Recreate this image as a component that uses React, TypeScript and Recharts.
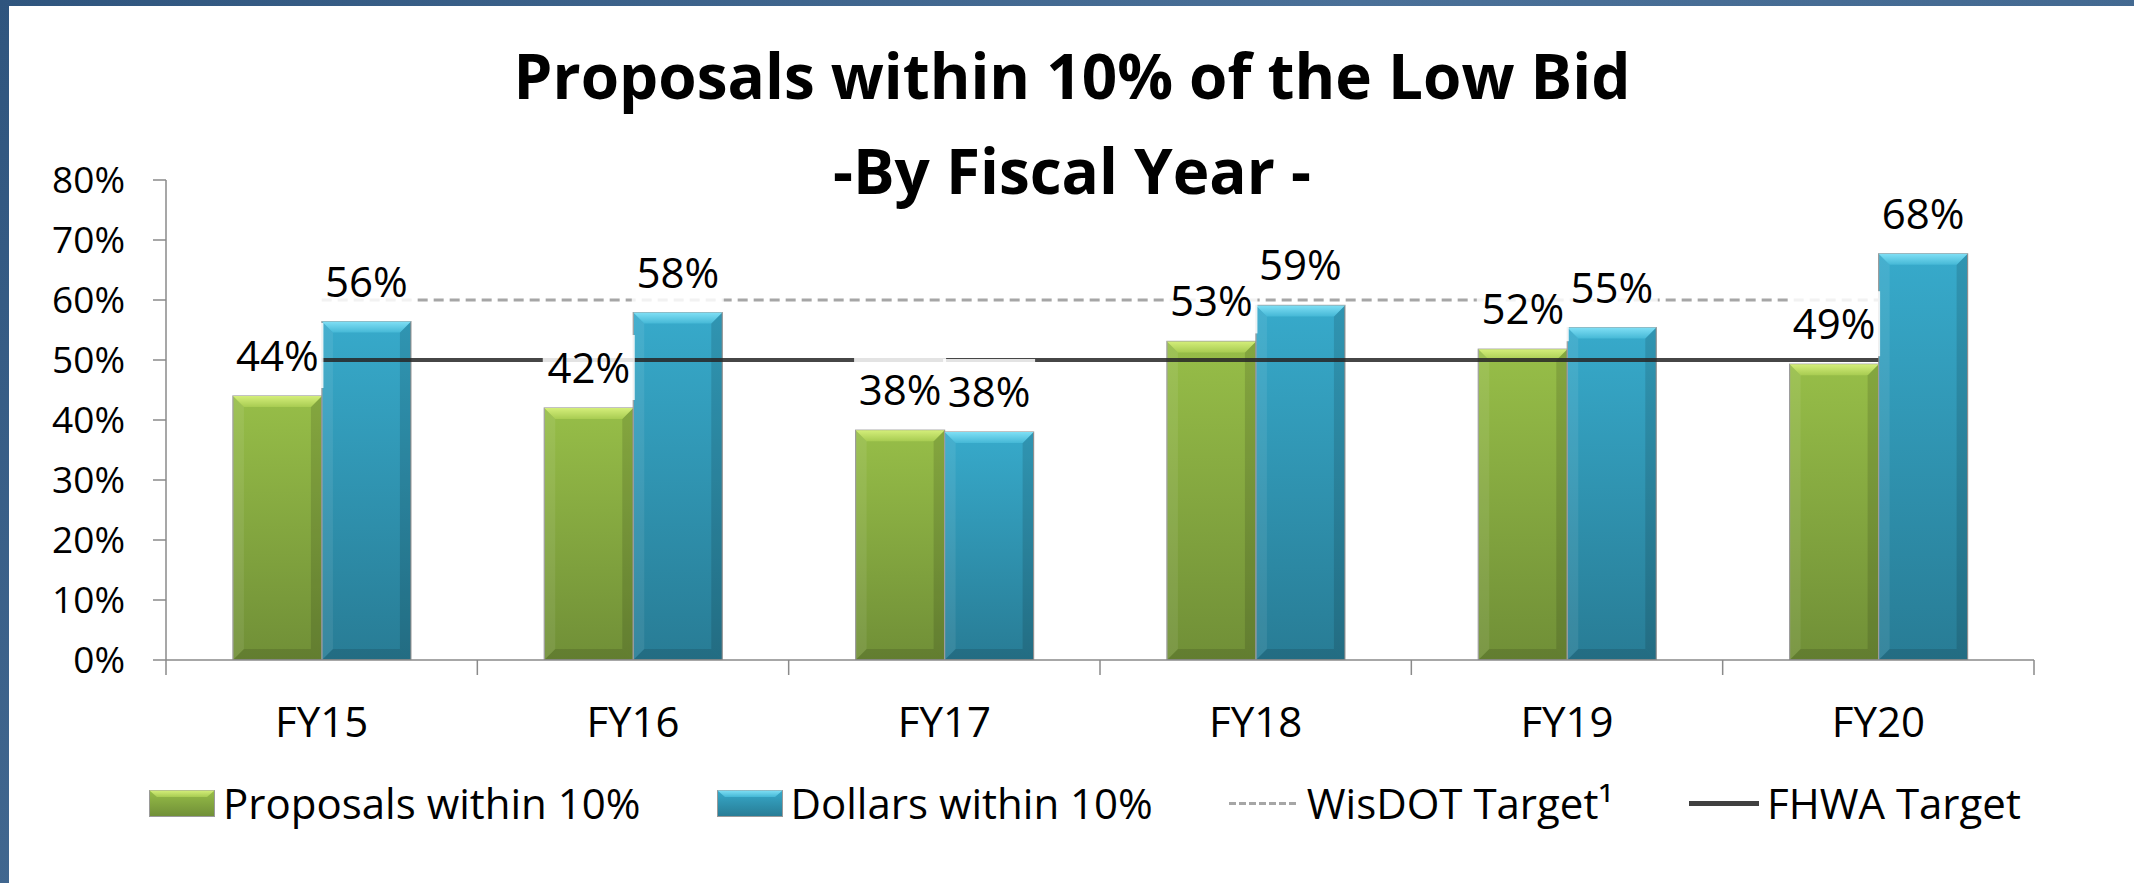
import React from 'react';
import { ComposedChart, Bar, Line, XAxis, YAxis, Legend, LabelList } from 'recharts';

// ---------- data ----------
const categories = ['FY15', 'FY16', 'FY17', 'FY18', 'FY19', 'FY20'];
const proposalsWithin10 = [0.44, 0.42, 0.383, 0.531, 0.518, 0.493];
const dollarsWithin10 = [0.564, 0.579, 0.38, 0.591, 0.554, 0.677];
const wisdotTarget = [0.6, 0.6, 0.6, 0.6, 0.6, 0.6];
const fhwaTarget = [0.5, 0.5, 0.5, 0.5, 0.5, 0.5];
const yTicks = [0, 0.1, 0.2, 0.3, 0.4, 0.5, 0.6, 0.7, 0.8];
const titleLines = ['Proposals within 10% of the Low Bid', '-By Fiscal Year -'];
const seriesKeys = ['proposals', 'dollars', 'wisdot', 'fhwa'];
const seriesNames = ['Proposals within 10%', 'Dollars within 10%', 'WisDOT Target\u00B9', 'FHWA Target'];

const data = categories.map((fy, i) => ({
  fy,
  proposals: proposalsWithin10[i],
  dollars: dollarsWithin10[i],
  wisdot: wisdotTarget[i],
  fhwa: fhwaTarget[i],
}));

// ---------- layout / style ----------
const W = 2134;
const H = 883;
const MARGIN = { top: 180, right: 100, bottom: 163, left: 0 };
const FONT = '"Open Sans", "Noto Sans", sans-serif';
const AXIS = '#8a8a8a';

const pct = (v: any) => `${Math.round(Number(v) * 100)}%`;

const Gradients = () => (
  <svg width={0} height={0} style={{ position: 'absolute' }}>
    <defs>
      <linearGradient id="greenBody" x1="0" y1="0" x2="0" y2="1">
        <stop offset="0%" stopColor="#97be48" />
        <stop offset="100%" stopColor="#708f37" />
      </linearGradient>
      <linearGradient id="greenTop" x1="0" y1="0" x2="0" y2="1">
        <stop offset="0%" stopColor="#d4ee7a" />
        <stop offset="100%" stopColor="#a8cc52" />
      </linearGradient>
      <linearGradient id="blueBody" x1="0" y1="0" x2="0" y2="1">
        <stop offset="0%" stopColor="#37aacb" />
        <stop offset="100%" stopColor="#287c95" />
      </linearGradient>
      <linearGradient id="blueTop" x1="0" y1="0" x2="0" y2="1">
        <stop offset="0%" stopColor="#7fdff5" />
        <stop offset="100%" stopColor="#45b8d6" />
      </linearGradient>
    </defs>
  </svg>
);

const makeBevelBar = (kind: 'green' | 'blue') => (props: any) => {
  const { x, y, width, height } = props;
  if (!height || height <= 0) return <g />;
  const b = Math.min(11, width / 4, height / 4);
  return (
    <g>
      <rect x={x} y={y} width={width} height={height} fill={`url(#${kind}Body)`} stroke="#9a9a9a" strokeWidth={1.2} />
      <polygon
        points={`${x},${y} ${x + b},${y + b} ${x + b},${y + height - b} ${x},${y + height}`}
        fill="#ffffff"
        fillOpacity={0.08}
      />
      <polygon
        points={`${x + width},${y} ${x + width - b},${y + b} ${x + width - b},${y + height - b} ${x + width},${y + height}`}
        fill="#000000"
        fillOpacity={0.12}
      />
      <polygon
        points={`${x},${y + height} ${x + b},${y + height - b} ${x + width - b},${y + height - b} ${x + width},${y + height}`}
        fill="#000000"
        fillOpacity={0.12}
      />
      <polygon
        points={`${x},${y} ${x + width},${y} ${x + width - b},${y + b} ${x + b},${y + b}`}
        fill={`url(#${kind}Top)`}
      />
    </g>
  );
};

const greenShape = makeBevelBar('green');
const blueShape = makeBevelBar('blue');

const XTick = (props: any) => {
  const { x, y, payload, index, visibleTicksCount } = props;
  const half = payload && typeof payload.offset === 'number' ? payload.offset : 0;
  const n = visibleTicksCount ?? categories.length;
  return (
    <g>
      <line x1={x - half} x2={x - half} y1={y} y2={y + 15} stroke={AXIS} strokeWidth={1.5} />
      {index === n - 1 && <line x1={x + half} x2={x + half} y1={y} y2={y + 15} stroke={AXIS} strokeWidth={1.5} />}
      <text x={x} y={y + 77} textAnchor="middle" fontSize={42} fontFamily={FONT} fill="#000">
        {payload.value}
      </text>
    </g>
  );
};

const ValueLabel = (props: any) => {
  const { x, y, width, value } = props;
  if (value == null) return <g />;
  const cx = Number(x) + Number(width) / 2;
  const base = Number(y) - 25;
  return (
    <g>
      <rect x={cx - 46} y={base - 48} width={92} height={65} fill="#ffffff" fillOpacity={0.85} />
      <text x={cx} y={base} textAnchor="middle" fontSize={42} fontFamily={FONT} fill="#000">
        {pct(value)}
      </text>
    </g>
  );
};

const LegendIcon = ({ dataKey }: { dataKey: string }) => {
  if (dataKey === 'proposals' || dataKey === 'dollars') {
    const kind = dataKey === 'proposals' ? 'green' : 'blue';
    return (
      <svg width={66} height={27} style={{ display: 'block' }}>
        <rect x={0.5} y={0.5} width={65} height={26} fill={`url(#${kind}Body)`} stroke="#9a9a9a" strokeWidth={1} />
        <polygon points="0.5,0.5 65.5,0.5 58,7 8,7" fill={`url(#${kind}Top)`} />
      </svg>
    );
  }
  const dashed = dataKey === 'wisdot';
  return (
    <svg width={70} height={27} style={{ display: 'block' }}>
      <line
        x1={0}
        x2={70}
        y1={13.5}
        y2={13.5}
        stroke={dashed ? '#a6a6a6' : '#404040'}
        strokeWidth={dashed ? 3 : 5}
        strokeDasharray={dashed ? '7 3' : undefined}
      />
    </svg>
  );
};

const renderLegend = (props: any) => {
  const raw = (props && props.payload) || [];
  const items = [...raw].sort(
    (a: any, b: any) => seriesKeys.indexOf(String(a.dataKey)) - seriesKeys.indexOf(String(b.dataKey)),
  );
  return (
    <div
      style={{
        display: 'flex',
        justifyContent: 'center',
        alignItems: 'center',
        gap: 76,
        paddingLeft: 36,
        fontFamily: FONT,
        fontSize: 42,
        lineHeight: '50px',
        color: '#000',
        whiteSpace: 'nowrap',
      }}
    >
      {items.map((it: any) => (
        <div key={String(it.dataKey)} style={{ display: 'flex', alignItems: 'center' }}>
          <LegendIcon dataKey={String(it.dataKey)} />
          <span style={{ marginLeft: 8 }}>{it.value}</span>
        </div>
      ))}
    </div>
  );
};

export default function App() {
  return (
    <div
      style={{
        position: 'absolute',
        left: 0,
        top: 0,
        width: W,
        height: H,
        overflow: 'hidden',
        background: 'linear-gradient(135deg, #2f557e 0%, #4a7098 45%, #3c628a 100%)',
      }}
    >
      <Gradients />
      <div style={{ position: 'absolute', left: 9, top: 6, right: 0, bottom: 0, background: '#ffffff' }} />

      <svg width={W} height={230} style={{ position: 'absolute', left: 0, top: 0 }}>
        <text x={1072} y={99} textAnchor="middle" fontSize={62} fontWeight={700} fontFamily={FONT} fill="#000">
          {titleLines[0]}
        </text>
        <text x={1072} y={194} textAnchor="middle" fontSize={62} fontWeight={700} fontFamily={FONT} fill="#000">
          {titleLines[1]}
        </text>
      </svg>

      {/* main chart: bars, target lines, axes, legend */}
      <div style={{ position: 'absolute', left: 0, top: 0 }}>
        <ComposedChart width={W} height={H} data={data} margin={MARGIN} barCategoryGap="21.5%" barGap={0}>
          <XAxis
            dataKey="fy"
            height={60}
            interval={0}
            tickSize={0}
            tickMargin={0}
            tickLine={false}
            axisLine={{ stroke: AXIS, strokeWidth: 1.5 }}
            tick={<XTick />}
          />
          <YAxis
            domain={[0, 0.8]}
            ticks={yTicks}
            interval={0}
            width={166}
            tickSize={13}
            tickMargin={28}
            tickFormatter={pct}
            axisLine={{ stroke: AXIS, strokeWidth: 1.5 }}
            tickLine={{ stroke: AXIS, strokeWidth: 1.5 }}
            tick={{ fontSize: 37, fontFamily: FONT, fill: '#000' }}
            allowDataOverflow
          />
          <Bar dataKey="proposals" name={seriesNames[0]} fill="#8db543" shape={greenShape} legendType="rect" isAnimationActive={false} />
          <Bar dataKey="dollars" name={seriesNames[1]} fill="#33a3c3" shape={blueShape} legendType="rect" isAnimationActive={false} />
          <Line
            dataKey="wisdot"
            name={seriesNames[2]}
            stroke="#a6a6a6"
            strokeWidth={3}
            strokeDasharray="10 6"
            dot={false}
            activeDot={false}
            legendType="line"
            isAnimationActive={false}
          />
          <Line
            dataKey="fhwa"
            name={seriesNames[3]}
            stroke="#262626"
            strokeOpacity={0.85}
            strokeWidth={4}
            dot={false}
            activeDot={false}
            legendType="line"
            isAnimationActive={false}
          />
          <Legend
            layout="horizontal"
            verticalAlign="middle"
            align="center"
            wrapperStyle={{ top: 778, left: 0, width: W, height: 50 }}
            content={renderLegend}
          />
        </ComposedChart>
      </div>

      {/* overlay chart with same layout: value labels (drawn above the target lines) */}
      <div style={{ position: 'absolute', left: 0, top: 0, pointerEvents: 'none' }}>
        <ComposedChart width={W} height={H} data={data} margin={MARGIN} barCategoryGap="21.5%" barGap={0}>
          <XAxis dataKey="fy" height={60} interval={0} tick={false} tickLine={false} axisLine={false} />
          <YAxis domain={[0, 0.8]} ticks={yTicks} width={166} tick={false} tickLine={false} axisLine={false} allowDataOverflow />
          <Bar dataKey="proposals" fill="none" legendType="none" isAnimationActive={false}>
            <LabelList dataKey="proposals" content={<ValueLabel />} />
          </Bar>
          <Bar dataKey="dollars" fill="none" legendType="none" isAnimationActive={false}>
            <LabelList dataKey="dollars" content={<ValueLabel />} />
          </Bar>
        </ComposedChart>
      </div>
    </div>
  );
}
